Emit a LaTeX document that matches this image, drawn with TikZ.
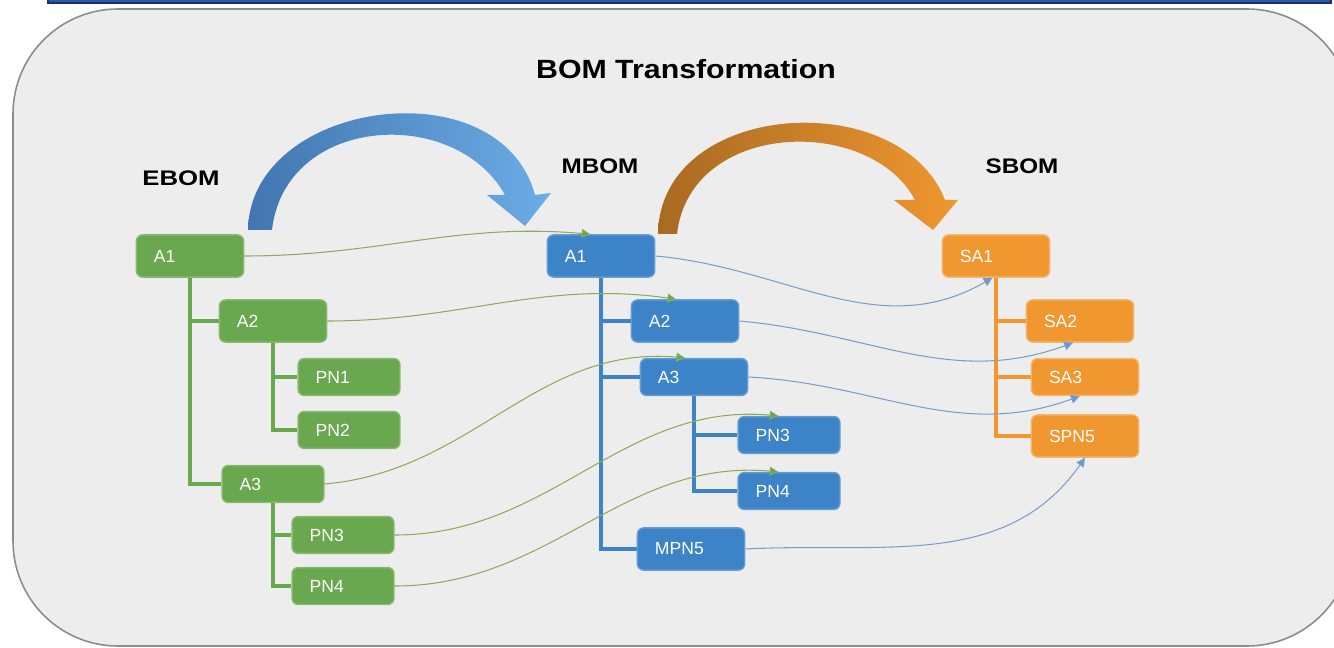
\documentclass[tikz,border=0pt]{standalone}
\usepackage{fontspec}
\usepackage{graphicx}
\setmainfont{Liberation Sans}
\usetikzlibrary{arrows.meta}

\definecolor{ebomgreen}{RGB}{106,168,79}
\definecolor{mbomblue}{RGB}{61,131,200}
\definecolor{sbomorange}{RGB}{240,151,48}
\definecolor{elinkgreen}{RGB}{140,172,92}
\definecolor{mlinkblue}{RGB}{122,158,204}
\definecolor{panelgray}{RGB}{237,237,237}
\definecolor{framegray}{RGB}{140,140,140}
\definecolor{barblue}{RGB}{47,88,170}
\definecolor{bardark}{RGB}{28,48,105}
\definecolor{arrowdark}{RGB}{66,118,176}
\definecolor{arrowlight}{RGB}{108,172,230}

\begin{document}
\begin{tikzpicture}[
        x=0.02cm, y=-0.02cm,
        box/.style={rectangle, rounded corners=3.5pt, line width=0.8pt, text=white,
            font=\fontsize{10}{12}\selectfont, align=left, inner xsep=10pt,
            text width=41pt, minimum height=24pt},
        low/.style={minimum height=21pt},
        narrow/.style={text width=38pt},
        ebox/.style={box, fill=ebomgreen, draw=ebomgreen!80!white},
        mbox/.style={box, fill=mbomblue, draw=mbomblue!80!white},
        sbox/.style={box, fill=sbomorange, draw=sbomorange!70!white},
        etree/.style={draw=ebomgreen, line width=2.8pt},
        mtree/.style={draw=mbomblue, line width=2.8pt},
        stree/.style={draw=sbomorange, line width=2.8pt},
        elink/.style={draw=elinkgreen, line width=0.6pt,
            -{Triangle[length=5pt, width=5pt, fill=ebomgreen]}},
        mlink/.style={draw=mlinkblue, line width=0.6pt,
            -{Triangle[length=5pt, width=5pt, fill=mbomblue!80!white]}},
        heading/.style={font=\fontsize{12}{14}\selectfont\bfseries},
    ]
    % page and panel
    \useasboundingbox (0,0) rectangle (1334,648);
    \fill[white] (0,0) rectangle (1334,648);
    \draw[fill=barblue, draw=bardark, line width=0.8pt] (48,-10) rectangle (1331,3);
    \draw[fill=panelgray, draw=framegray, line width=0.9pt, rounded corners=2.1cm]
        (13,9) rectangle (1352,646);

    \node[font=\fontsize{15}{18}\selectfont\bfseries] (title) at (686,69)
        {\scalebox{1.15}[1]{BOM Transformation}};
    \node[heading] (ebom) at (181,178) {\scalebox{1.22}[1]{EBOM}};
    \node[heading] (mbom) at (600,166) {\scalebox{1.15}[1]{MBOM}};
    \node[heading] (sbom) at (1022,166) {\scalebox{1.15}[1]{SBOM}};

    % transformation arrows
    \shade[left color=arrowdark, right color=arrowlight]
        (248,230) .. controls (250,100) and (500,65) .. (535,195)
        -- (551,193) -- (525,226) -- (487,195) -- (505,195)
        .. controls (455,105) and (285,115) .. (272,230) -- cycle;
    \shade[left color=sbomorange!70!black, right color=sbomorange]
        (658,234) .. controls (660,100) and (900,85) .. (945,200)
        -- (958,200) -- (933,230) -- (894,200) -- (915,200)
        .. controls (870,115) and (690,120) .. (677,234) -- cycle;

    % EBOM
    \node[ebox] (eA1) at (190,256) {A1};
    \node[ebox] (eA2) at (273,321) {A2};
    \node[ebox, low, narrow] (ePN1) at (349,377) {PN1};
    \node[ebox, low, narrow] (ePN2) at (349,430) {PN2};
    \node[ebox, low, narrow] (eA3) at (273,484) {A3};
    \node[ebox, low, narrow] (ePN3) at (343,535) {PN3};
    \node[ebox, low, narrow] (ePN4) at (343,586) {PN4};
    \draw[etree] (eA1.south) |- (eA2.west);
    \draw[etree] (eA1.south) |- (eA3.west);
    \draw[etree] (eA2.south) |- (ePN1.west);
    \draw[etree] (eA2.south) |- (ePN2.west);
    \draw[etree] (eA3.south) |- (ePN3.west);
    \draw[etree] (eA3.south) |- (ePN4.west);

    % MBOM
    \node[mbox] (mA1) at (601,256) {A1};
    \node[mbox] (mA2) at (685,321) {A2};
    \node[mbox, low] (mA3) at (694,377) {A3};
    \node[mbox, low, narrow] (mPN3) at (789,435) {PN3};
    \node[mbox, low, narrow] (mPN4) at (789,491) {PN4};
    \node[mbox] (mMPN5) at (691,549) {MPN5};
    \draw[mtree] (mA1.south) |- (mA2.west);
    \draw[mtree] (mA1.south) |- (mA3.west);
    \draw[mtree] (mA1.south) |- (mMPN5.west);
    \draw[mtree] (mA3.south) |- (mPN3.west);
    \draw[mtree] (mA3.south) |- (mPN4.west);

    % SBOM
    \node[sbox] (sSA1) at (996,256) {SA1};
    \node[sbox] (sSA2) at (1080,321) {SA2};
    \node[sbox, low] (sSA3) at (1085,377) {SA3};
    \node[sbox] (sSPN5) at (1085,436) {SPN5};
    \draw[stree] (sSA1.south) |- (sSA2.west);
    \draw[stree] (sSA1.south) |- (sSA3.west);
    \draw[stree] (sSA1.south) |- (sSPN5.west);

    % EBOM -> MBOM
    \draw[elink] (eA1.east) to[out=0, in=175] ([xshift=-6pt]mA1.north);
    \draw[elink] (eA2.east) to[out=0, in=172] ([xshift=-5pt]mA2.north);
    \draw[elink] (eA3.east) to[out=5, in=175] ([xshift=-5pt]mA3.north);
    \draw[elink] (ePN3.east) to[out=0, in=175] ([xshift=-6pt]mPN3.north);
    \draw[elink] (ePN4.east) to[out=0, in=175] ([xshift=-6pt]mPN4.north);

    % MBOM -> SBOM
    \draw[mlink] (mA1.east) to[out=-5, in=210] ([xshift=-2pt]sSA1.south);
    \draw[mlink] (mA2.east) to[out=-5, in=200] ([xshift=-4pt]sSA2.south);
    \draw[mlink] (mA3.east) to[out=-3, in=200] ([xshift=-3pt]sSA3.south);
    \draw[mlink] (mMPN5.east) to[out=3, in=235] (sSPN5.south);
\end{tikzpicture}
\end{document}
